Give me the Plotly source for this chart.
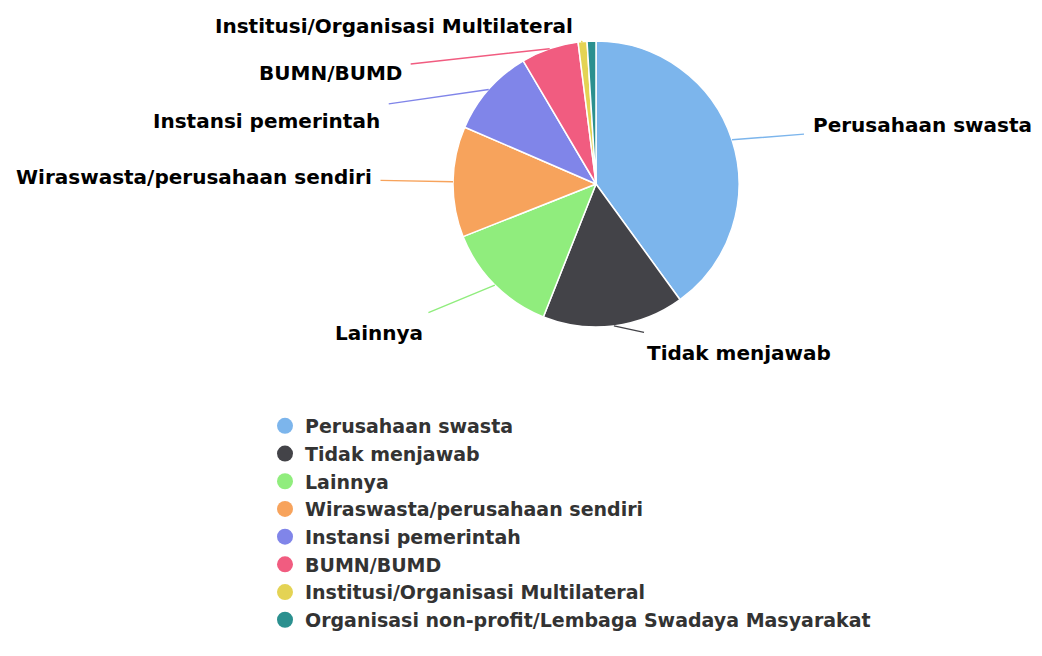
import math
import plotly.graph_objects as go

# ---- data ----
categories = [
    "Perusahaan swasta",
    "Tidak menjawab",
    "Lainnya",
    "Wiraswasta/perusahaan sendiri",
    "Instansi pemerintah",
    "BUMN/BUMD",
    "Institusi/Organisasi Multilateral",
    "Organisasi non-profit/Lembaga Swadaya Masyarakat",
]
values = [40, 16, 13, 12.5, 10, 6.5, 1, 1]
colors = ["#7cb5ec", "#434348", "#90ed7d", "#f7a35c", "#8085e9", "#f15c80", "#e4d354", "#2b908f"]
show_label = [True, True, True, True, True, True, True, False]

# ---- layout / style ----
PAGE_MARGIN = 8          # default body margin of the html page
W, H = 1026, 640
CX, CY, R = 596, 184, 143   # pie centre / radius in page pixels
# label box centre offsets (pixels) relative to the slice edge point
label_offsets = [(190, -15), (125, 27), (-116, 48), (-259, -5), (-222, 32), (-219, 24), (-189, -16), (0, 0)]
FONT = "DejaVu Sans"


def px2paper_x(p):
    return (p - PAGE_MARGIN) / W


def px2paper_y(p):
    return 1 - (p - PAGE_MARGIN) / H


fig = go.Figure()
fig.add_trace(go.Pie(
    labels=categories, values=values, sort=False, direction="clockwise", rotation=0,
    marker=dict(colors=colors, line=dict(color="white", width=1.5)),
    textinfo="none", hoverinfo="label+percent", showlegend=False,
    domain=dict(x=[px2paper_x(CX - R), px2paper_x(CX + R)],
                y=[px2paper_y(CY + R), px2paper_y(CY - R)]),
))

# legend entries (circle symbols)
for name, col in zip(categories, colors):
    fig.add_trace(go.Scatter(x=[None], y=[None], mode="markers", name=name,
                             marker=dict(color=col, size=16, symbol="circle")))

# data labels with connectors
total = sum(values)
cum = 0.0
annotations = []
for name, v, col, show, (ox, oy) in zip(categories, values, colors, show_label, label_offsets):
    mid = (cum + v / 2) / total * 2 * math.pi
    cum += v
    if not show:
        continue
    px = CX + R * math.sin(mid)
    py = CY - R * math.cos(mid)
    annotations.append(dict(
        x=px2paper_x(px), y=px2paper_y(py), xref="paper", yref="paper",
        text=name, showarrow=True, ax=ox, ay=oy, arrowhead=0, arrowwidth=1.4,
        arrowcolor=col, standoff=0, borderpad=8,
        font=dict(family=FONT, size=20, color="#000000", weight="bold"),
    ))

fig.update_layout(
    width=W, height=H, margin=dict(l=0, r=0, t=0, b=0),
    paper_bgcolor="white", plot_bgcolor="white",
    xaxis=dict(visible=False), yaxis=dict(visible=False),
    annotations=annotations,
    legend=dict(x=px2paper_x(265), y=px2paper_y(407), xanchor="left", yanchor="top",
                font=dict(family=FONT, size=19, color="#333333", weight="bold"),
                bgcolor="rgba(0,0,0,0)", itemclick=False, itemdoubleclick=False),
    showlegend=True,
)

fig.write_html("out.html")
